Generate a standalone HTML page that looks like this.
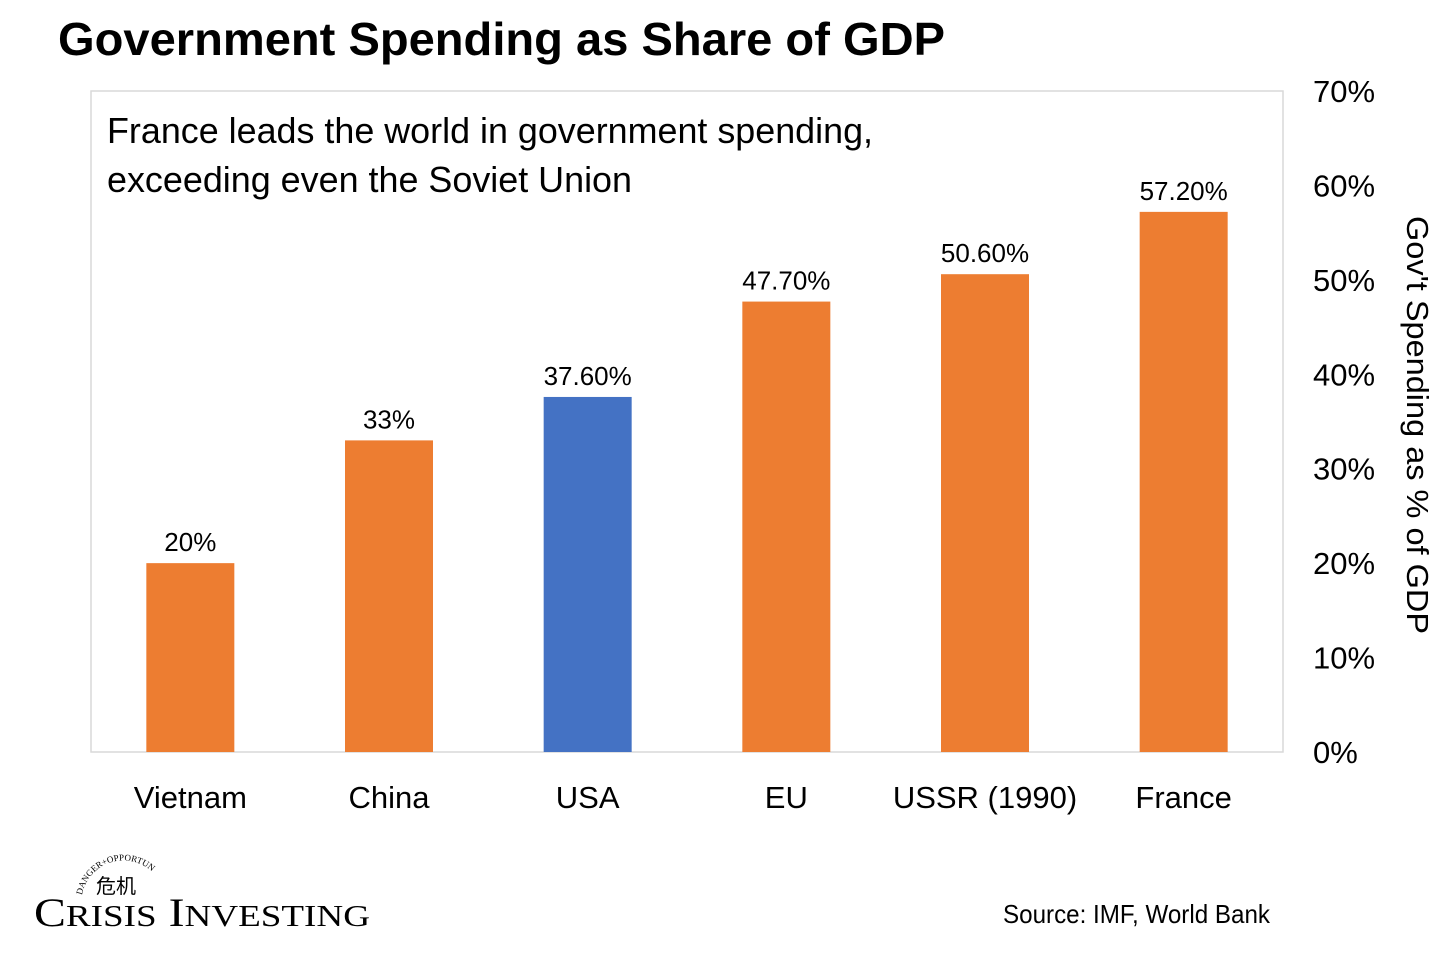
<!DOCTYPE html>
<html><head><meta charset="utf-8"><style>
body{margin:0;background:#fff}
svg text{font-family:"Liberation Sans",Arial,sans-serif}
svg text.serif{font-family:"Liberation Serif","Times New Roman",serif}
</style></head><body>
<svg id="chart" width="1456" height="952" viewBox="0 0 1456 952" xmlns="http://www.w3.org/2000/svg">
<rect width="1456" height="952" fill="#fff"/>
<text x="58" y="55" font-size="46" font-weight="bold" textLength="887" lengthAdjust="spacingAndGlyphs">Government Spending as Share of GDP</text>
<rect x="91" y="91" width="1192" height="661" fill="none" stroke="#d9d9d9" stroke-width="1.5"/>
<text x="107" y="143" font-size="36" textLength="766" lengthAdjust="spacingAndGlyphs">France leads the world in government spending,</text>
<text x="107" y="192" font-size="36" textLength="525" lengthAdjust="spacingAndGlyphs">exceeding even the Soviet Union</text>
<g id="bars"></g>
<g id="yticks"></g>
<text transform="translate(1407,425) rotate(90)" text-anchor="middle" font-size="31" textLength="418" lengthAdjust="spacingAndGlyphs">Gov't Spending as % of GDP</text>
<path id="arc" d="M82,895 A42,42 0 0 1 150,870" fill="none"/>
<text class="serif" font-size="9"><textPath href="#arc">DANGER+OPPORTUNITY</textPath></text>
<text x="96" y="893" font-size="20" font-family="Noto Serif CJK SC">危机</text>
<text class="serif" x="34" y="926" font-size="40" textLength="336" lengthAdjust="spacingAndGlyphs">C<tspan font-size="31">RISIS</tspan> I<tspan font-size="31">NVESTING</tspan></text>
<text x="1270" y="923" text-anchor="end" font-size="26" textLength="267" lengthAdjust="spacingAndGlyphs">Source: IMF, World Bank</text>
</svg>
<script>
const categories=["Vietnam","China","USA","EU","USSR (1990)","France"];
const values=[20,33,37.6,47.7,50.6,57.2];
const valueLabels=["20%","33%","37.60%","47.70%","50.60%","57.20%"];
const tickValues=[0,10,20,30,40,50,60,70];
const NS="http://www.w3.org/2000/svg";
const x0=91,x1=1283,y0=752,y1=91,ymax=70;
const band=(x1-x0)/categories.length,bw=88;
const y=v=>y0-(v/ymax)*(y0-y1);
const bx=i=>x0+band*i+band/2;
const g=document.getElementById('bars');
function mk(t,a,p){const e=document.createElementNS(NS,t);for(const k in a)e.setAttribute(k,a[k]);p.appendChild(e);return e;}
categories.forEach((c,i)=>{
  const r=mk('rect',{x:bx(i)-bw/2,y:y(values[i]),width:bw,height:y0-y(values[i]),fill:c==="USA"?"#4472c4":"#ed7d31"},g);
  
  
  const l=mk('text',{x:bx(i),y:y(values[i])-12,'text-anchor':'middle','font-size':26},g);
  l.textContent=valueLabels[i];
  
  
  const xl=mk('text',{x:bx(i),y:808,'text-anchor':'middle','font-size':31},g);
  xl.textContent=c;
  
  
});
const yt=document.getElementById('yticks');
tickValues.forEach(v=>{
  const t=mk('text',{x:1313,y:y(v)+11,'font-size':31},yt);
  t.textContent=v+"%";
  
  
});
</script>
</body></html>
